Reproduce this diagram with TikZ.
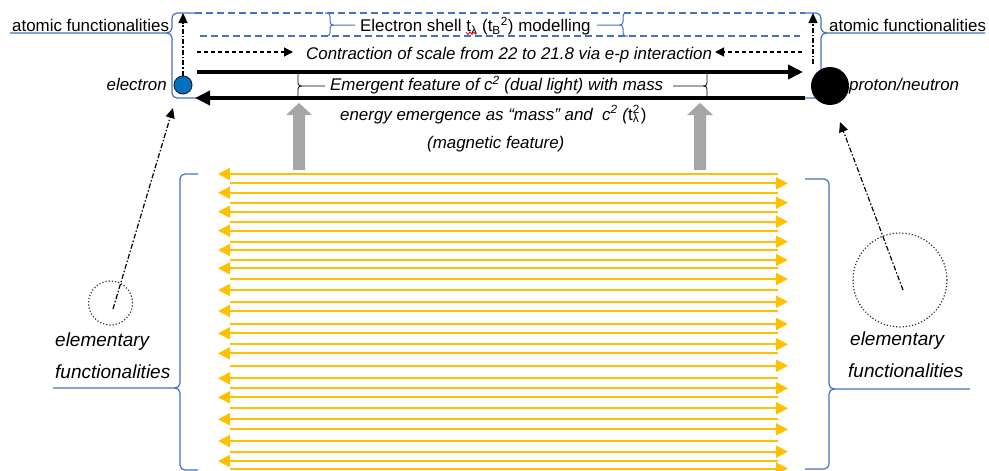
\documentclass[tikz,border=0pt]{standalone}
\usepackage{fontspec}
\setmainfont{Liberation Sans}
\usetikzlibrary{arrows.meta}
\definecolor{bl}{HTML}{4472C4}
\definecolor{yl}{HTML}{FFC000}
\definecolor{gr}{HTML}{A6A6A6}
\definecolor{eb}{HTML}{0070C0}
\tikzset{
  txt/.style={inner sep=0pt, font=\fontsize{16.9}{19}\selectfont},
  itx/.style={txt, font=\fontsize{16.9}{19}\selectfont\itshape},
  etx/.style={inner sep=0pt, font=\fontsize{19}{22}\selectfont\itshape},
  blueline/.style={draw=bl, line width=1.2pt},
  bluedash/.style={draw=bl, line width=1.2pt, dash pattern=on 7pt off 4pt},
  brc/.style={blueline, rounded corners=5pt},
  sbrc/.style={blueline, line width=1pt, rounded corners=3pt},
  kbrc/.style={draw=black, line width=0.8pt, rounded corners=3pt},
  thick arrow/.style={line width=4.5pt, -{Triangle[length=15pt,width=14pt]}},
  dash arrow/.style={line width=1.2pt, dash pattern=on 4pt off 3pt, -{Triangle[length=9pt,width=9pt]}},
  dd arrow/.style={line width=1.2pt, dash pattern=on 5pt off 2pt on 1.5pt off 2pt, -{Triangle[length=10pt,width=9pt]}},
  yarrow/.style={draw=yl, line width=2pt, -{Triangle[length=12pt,width=12pt]}},
  ycircle/.style={circle, draw=black!80, line width=1.2pt, dotted},
}
\begin{document}
\begin{tikzpicture}[x=1pt,y=-1pt]
\useasboundingbox (0,0) rectangle (989,471);

% ---------- top dashed box (electron shell) ----------
\draw[bluedash] (195,13) -- (805,13);
\draw[bluedash] (200,36) -- (800,36);
\node[txt, anchor=base west] (shell) at (360,31.5) {Electron shell t\textsubscript{λ} (t\textsubscript{B}\textsuperscript{2}) modelling};
\draw[red, line width=0.8pt] (466,32) -- (468,34.5) -- (470,32) -- (472,34.5) -- (474,32) -- (476,34.5);
\draw[sbrc] (325,13) -- (330,13) -- (330,25) -- (355,25);
\draw[sbrc] (334,25) -- (330,25) -- (330,36) -- (325,36);
\draw[sbrc] (628,13) -- (623,13) -- (623,25) -- (597,25);
\draw[sbrc] (619,25) -- (623,25) -- (623,36) -- (628,36);

% ---------- atomic functionalities braces ----------
\node[txt, anchor=base west] (afl) at (12,31) {atomic functionalities};
\node[txt, anchor=base west] (afr) at (829,31) {atomic functionalities};
\draw[brc] (195,13) -- (172,13) -- (172,33) -- (10,33);
\draw[brc] (166,33) -- (172,33) -- (172,98) -- (197,98);
\draw[brc] (805,13) -- (821,13) -- (821,33) -- (985,33);
\draw[brc] (827,33) -- (821,33) -- (821,98) -- (803,98);

% ---------- particles ----------
\node[circle, fill=eb, draw=black!85, line width=1pt, minimum size=18pt, inner sep=0pt] (e) at (183,85) {};
\node[circle, fill=black, minimum size=38pt, inner sep=0pt] (p) at (830,86) {};
\node[itx, anchor=base east] (el) at (167,90) {electron};
\node[itx, anchor=base west] (pl) at (849,90) {proton/neutron};

\coordinate (eTop) at (183,13);
\coordinate (pBot) at (813,64);
\coordinate (pTop) at (813,13);
\draw[dd arrow] (e.north) -- (eTop);
\draw[dd arrow] (pBot) -- (pTop);

% ---------- contraction ----------
\coordinate (cl1) at (197,52); \coordinate (cl2) at (293,52);
\coordinate (cr1) at (802,52); \coordinate (cr2) at (715,52);
\draw[dash arrow] (cl1) -- (cl2);
\draw[dash arrow] (cr1) -- (cr2);
\node[itx, anchor=base west] (contr) at (306,59) {Contraction of scale from 22 to 21.8 via e-p interaction};

% ---------- thick arrows ----------
\coordinate (t1) at (197,72); \coordinate (t2) at (803,72);
\coordinate (b1) at (805,98); \coordinate (b2) at (195,98);
\draw[thick arrow] (t1) -- (t2);
\draw[thick arrow] (b1) -- (b2);
\draw[kbrc] (298,73) -- (298,86) -- (325,86);
\draw[kbrc] (302,86) -- (298,86) -- (298,97);
\draw[kbrc] (707,73) -- (707,86) -- (673,86);
\draw[kbrc] (703,86) -- (707,86) -- (707,97);
\node[itx, anchor=base west] (emer) at (330,90.5) {Emergent feature of c\textsuperscript{2} (dual light) with mass};

% ---------- energy text ----------
\node[itx, anchor=base west] (energy) at (340,120) {energy emergence as “mass” and\ \ c\textsuperscript{2} (\upshape t\rlap{\textsubscript{λ}}\textsuperscript{2}\kern1pt)};
\node[itx, anchor=base west] (magn) at (427,148) {(magnetic feature)};

% ---------- gray block arrows ----------
\foreach \cx in {299,700} {
  \fill[gr] (\cx-6,170) -- (\cx-6,115) -- (\cx-13,115) -- (\cx,103) -- (\cx+13,115) -- (\cx+6,115) -- (\cx+6,170) -- cycle;
}

% ---------- yellow arrows ----------
\foreach \y in {174,192.7,211.7,230.7,250,268.3,290,311,333.3,353.3,378.3,397.3,419.3,441,461} {
  \draw[yarrow] (778,\y) -- (218,\y);
}
\foreach \y in {183.3,202.7,221.7,241.7,260,279,301.7,324,344.3,365.7,388.3,408.3,429.3,451.7,468.5} {
  \draw[yarrow] (230,\y) -- (788,\y);
}

% ---------- big braces ----------
\draw[brc] (198,174) -- (180,174) -- (180,388) -- (53,388);
\draw[brc] (174,388) -- (180,388) -- (180,470) -- (198,470);
\draw[brc] (805,179) -- (829,179) -- (829,389) -- (970,389);
\draw[brc] (835,389) -- (829,389) -- (829,469) -- (805,469);

% ---------- elementary functionalities ----------
\node[ycircle, minimum size=44pt] (c1) at (110.5,303) {};
\node[ycircle, minimum size=94pt] (c2) at (900,280) {};
\coordinate (c1s) at (113,309);
\coordinate (c1e) at (173,108);
\coordinate (c2s) at (903,290);
\coordinate (c2e) at (840,122);
\draw[dd arrow] (c1s) -- (c1e);
\draw[dd arrow] (c2s) -- (c2e);
\node[etx, anchor=base west] (el1) at (55,346) {elementary};
\node[etx, anchor=base west] (fl1) at (55,378) {functionalities};
\node[etx, anchor=base west] (el2) at (850,345) {elementary};
\node[etx, anchor=base west] (fl2) at (848,377) {functionalities};
\end{tikzpicture}
\end{document}
